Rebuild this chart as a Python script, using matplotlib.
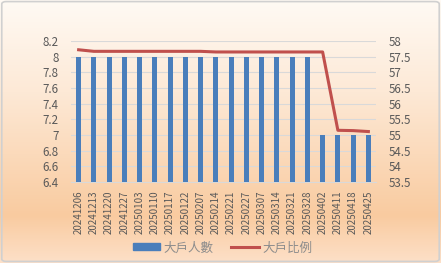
import numpy as np
import matplotlib.pyplot as plt
from matplotlib.colors import LinearSegmentedColormap
from matplotlib.patches import FancyBboxPatch
from matplotlib.lines import Line2D
from matplotlib.patches import Patch

plt.rcParams['font.family'] = ['Noto Sans CJK TC', 'DejaVu Sans']

dates = ["20241206", "20241213", "20241220", "20241227", "20250103", "20250110",
         "20250117", "20250122", "20250207", "20250214", "20250221", "20250227",
         "20250307", "20250314", "20250321", "20250328", "20250402", "20250411",
         "20250418", "20250425"]
holders = [8, 8, 8, 8, 8, 8, 8, 8, 8, 8, 8, 8, 8, 8, 8, 8, 7, 7, 7, 7]
ratio = [57.72, 57.67, 57.67, 57.67, 57.67, 57.67, 57.67, 57.67, 57.67, 57.65,
         57.65, 57.65, 57.65, 57.65, 57.65, 57.65, 57.65, 55.15, 55.14, 55.11]

fig = plt.figure(figsize=(4.41, 2.63), dpi=100)

# background gradient
bg = fig.add_axes([0, 0, 1, 1], zorder=-10)
cmap = LinearSegmentedColormap.from_list(
    "peach", [(0.0, "#fffaf4"), (0.35, "#fde9d6"), (0.82, "#f9cba0"), (1.0, "#fde0c8")])
grad = np.linspace(0, 1, 256).reshape(-1, 1)
bg.imshow(grad, aspect="auto", cmap=cmap, extent=[0, 1, 0, 1], origin="upper")
bg.add_patch(FancyBboxPatch((0.004, 0.006), 0.992, 0.988, boxstyle="round,pad=0,rounding_size=0.01",
                            transform=bg.transAxes, fill=False, edgecolor="#d0d0d0", lw=1.2))
bg.set_xlim(0, 1)
bg.set_ylim(0, 1)
bg.axis("off")

ax = fig.add_axes([71 / 441, 1 - 182 / 263, 305 / 441, 141 / 263])
ax.patch.set_alpha(0)
x = np.arange(len(dates))
ax.bar(x, holders, width=0.34, color="#4a7ebb", zorder=3)
ax.set_ylim(6.4, 8.2)
ax.set_yticks(np.arange(6.4, 8.21, 0.2))
ax.set_yticklabels(["6.4", "6.6", "6.8", "7", "7.2", "7.4", "7.6", "7.8", "8", "8.2"])
ax.set_xlim(-0.5, len(dates) - 0.5)
ax.set_xticks(x)
ax.set_xticklabels(dates, rotation=90)
ax.grid(axis="y", color="#d9d9d9", lw=0.8, zorder=0)
for s in ax.spines.values():
    s.set_visible(False)
ax.spines["bottom"].set_visible(True)
ax.spines["bottom"].set_color("#d9d9d9")
ax.tick_params(axis="x", length=0, labelsize=7, labelcolor="#595959", pad=6)
ax.tick_params(axis="y", length=0, labelsize=8.3, labelcolor="#595959", pad=9)

ax2 = ax.twinx()
ax2.plot(x, ratio, color="#c0504d", lw=2.2, zorder=4)
ax2.set_ylim(53.5, 58)
ax2.set_yticks(np.arange(53.5, 58.01, 0.5))
ax2.set_yticklabels(["53.5", "54", "54.5", "55", "55.5", "56", "56.5", "57", "57.5", "58"])
for s in ax2.spines.values():
    s.set_visible(False)
ax2.tick_params(length=0, labelsize=8.3, labelcolor="#595959", pad=9)

handles = [Patch(color="#4a7ebb", label="大戶人數"),
           Line2D([0], [0], color="#c0504d", lw=2.2, label="大戶比例")]
fig.legend(handles=handles, loc="center", bbox_to_anchor=(0.505, 0.058), ncol=2, frameon=False,
           fontsize=9, labelcolor="#8c8c8c", handlelength=2.2, handleheight=0.5,
           handletextpad=0.3, columnspacing=1.4)

fig.savefig("out.png", dpi=100)
